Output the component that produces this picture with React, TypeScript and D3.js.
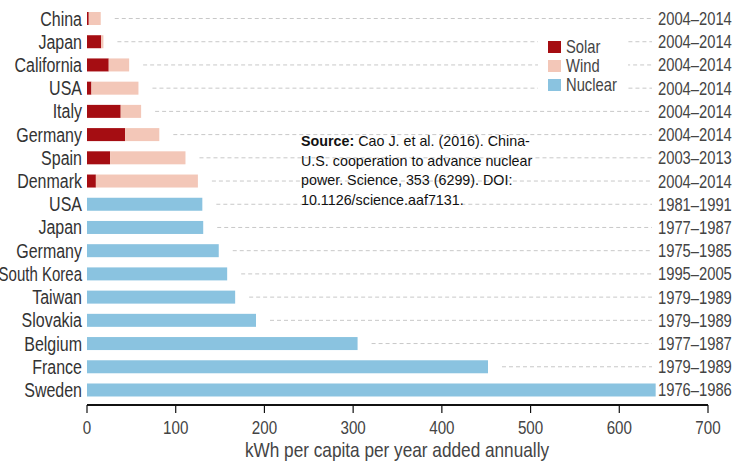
import React from "react";
import * as d3 from "d3";

const categories = [
  "China", "Japan", "California", "USA", "Italy", "Germany", "Spain", "Denmark",
  "USA", "Japan", "Germany", "South Korea", "Taiwan", "Slovakia", "Belgium", "France", "Sweden",
];
const periods = [
  "2004–2014", "2004–2014", "2004–2014", "2004–2014", "2004–2014", "2004–2014", "2003–2013", "2004–2014",
  "1981–1991", "1977–1987", "1975–1985", "1995–2005", "1979–1989", "1979–1989", "1977–1987", "1979–1989", "1976–1986",
];
const solar = [2, 16, 24.5, 5, 38, 43, 26, 10, 0, 0, 0, 0, 0, 0, 0, 0, 0];
const wind = [13.5, 2.5, 23, 53, 23, 38.5, 85, 115, 0, 0, 0, 0, 0, 0, 0, 0, 0];
const nuclear = [0, 0, 0, 0, 0, 0, 0, 0, 130, 131, 148.5, 158, 167, 190.5, 305, 452, 641];
const xTicks = [0, 100, 200, 300, 400, 500, 600, 700];
const legendItems = ["Solar", "Wind", "Nuclear"];
const colors = ["#a50d12", "#f3c7b8", "#8ac3e0"];

const FONT = "'Liberation Sans', Arial, sans-serif";
const SX = 0.82;

function CText({ x, y, anchor = "start", size = 18, fill = "#444", sx = SX, children }: any) {
  return (
    <text transform={`translate(${x},${y}) scale(${sx},1)`} dy="0.36em" textAnchor={anchor}
      fontFamily={FONT} fontSize={size} fill={fill}>{children}</text>
  );
}

export default function App() {
  const W = 750, H = 466;
  const x = d3.scaleLinear().domain([0, 700]).range([87, 708]);
  const idx = categories.map((_, i) => i);
  const y = d3.scaleBand<number>().domain(idx).range([6.9, 401.6]).paddingInner(0.44).paddingOuter(0.22);
  const bh = y.bandwidth();
  const axisY = 405;
  const lineEnd = 652;

  return (
    <svg width={W} height={H} style={{ position: "absolute", left: 0, top: 0, background: "#fff" }}>
      {idx.map((i) => {
        const total = solar[i] + wind[i] + nuclear[i];
        const start = x(total) + 14;
        if (start >= lineEnd) return null;
        const cy = (y(i) as number) + bh / 2;
        return (
          <line key={"dl" + i} x1={start} x2={lineEnd} y1={cy} y2={cy}
            stroke="#c8c8c8" strokeWidth={1} strokeDasharray="4,3" />
        );
      })}
      {idx.map((i) => {
        const y0 = y(i) as number;
        const segs = [solar[i], wind[i], nuclear[i]];
        let acc = 0;
        return (
          <g key={"b" + i}>
            {segs.map((v, s) => {
              if (v <= 0) return null;
              const r = <rect key={s} x={x(acc)} y={y0} width={x(acc + v) - x(acc)} height={bh} fill={colors[s]} />;
              acc += v;
              return r;
            })}
          </g>
        );
      })}
      {idx.map((i) => (
        <CText key={"c" + i} x={82} y={(y(i) as number) + bh / 2} anchor="end"
          size={19.5} sx={categories[i] === "South Korea" ? 0.77 : SX} fill="#333">{categories[i]}</CText>
      ))}
      {idx.map((i) => (
        <CText key={"p" + i} x={658} y={(y(i) as number) + bh / 2} size={18} fill="#444">{periods[i]}</CText>
      ))}
      <rect x={538} y={32} width={90} height={64} fill="#fff" />
      {legendItems.map((l, k) => (
        <g key={"lg" + k}>
          <rect x={548} y={41 + k * 19} width={13} height={12} fill={colors[k]} />
          <CText x={566} y={47 + k * 19} size={18} fill="#444">{l}</CText>
        </g>
      ))}
      <g fontFamily="'Liberation Sans', Arial, sans-serif" fontSize={14.3} fill="#111">
        <text x={301} y={146}><tspan fontWeight="bold">Source:</tspan> Cao J. et al. (2016). China-</text>
        <text x={301} y={165.5}>U.S. cooperation to advance nuclear</text>
        <text x={301} y={185}>power. Science, 353 (6299). DOI:</text>
        <text x={301} y={204.5}>10.1126/science.aaf7131.</text>
      </g>
      <line x1={x(0)} x2={x(700)} y1={axisY} y2={axisY} stroke="#111" strokeWidth={2} />
      {xTicks.map((t) => (
        <g key={"t" + t}>
          <line x1={x(t)} x2={x(t)} y1={axisY} y2={axisY + 8} stroke="#111" strokeWidth={1.2} />
          <CText x={x(t)} y={427} anchor="middle" size={18.5} fill="#444">{t}</CText>
        </g>
      ))}
      <CText x={397} y={449} anchor="middle" size={21} fill="#444">kWh per capita per year added annually</CText>
    </svg>
  );
}
